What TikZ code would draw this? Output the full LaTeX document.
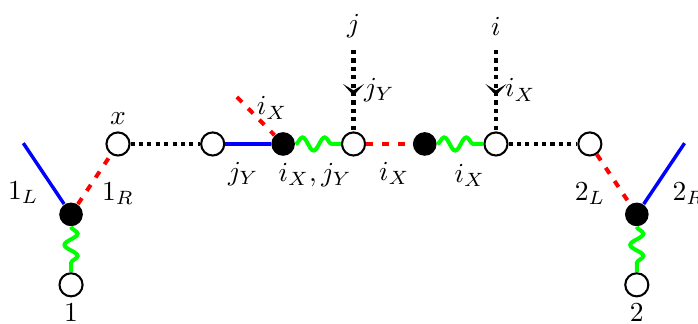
\documentclass[tikz,border=0pt]{standalone}
\usetikzlibrary{arrows.meta,positioning,decorations.pathmorphing,decorations.markings}

\begin{document}
\begin{tikzpicture}[>=Latex,on grid]
  \tikzstyle{hollow}=[circle,draw,fill=white,line width=0.75pt,minimum size=8.4pt,inner sep=0pt]
  \tikzstyle{vertex}=[circle,fill=black,minimum size=8.6pt,inner sep=0pt]
  \tikzstyle{bline}=[blue,line width=1.25pt]
  \tikzstyle{rline}=[red,line width=1.45pt,dash pattern=on 2.6pt off 3.2pt]
  \tikzstyle{dline}=[black,line width=1.55pt,dash pattern=on 1.5pt off 1.55pt]
  \tikzstyle{gline}=[green,line width=1.45pt,decorate,decoration={snake,segment length=8.1pt,amplitude=2.4pt}]
  \tikzstyle{arrline}=[dline,postaction={solid,decorate,decoration={markings,mark=at position 0.56 with {\arrow{Stealth[length=4.2pt,width=7.6pt,inset=2.3pt]}}}}]
  \useasboundingbox (-1.508,-2.300) rectangle (7.412,1.840);

  % horizontal row
  \node[hollow] (x) at (0,0) {};
  \node[hollow,right=1.21cm of x] (a) {};
  \node[vertex,right=0.9cm of a] (b) {};
  \node[hollow,right=0.9cm of b] (c) {};
  \node[vertex,right=0.91cm of c] (d) {};
  \node[hollow,right=0.91cm of d] (e) {};
  \node[hollow,right=1.2cm of e] (f) {};

  % the two outer legs
  \node[vertex,below left=0.9cm and 0.6cm of x] (v1) {};
  \node[hollow,below=0.9cm of v1] (n1) {};
  \node[vertex,below right=0.9cm and 0.6cm of f] (v2) {};
  \node[hollow,below=0.9cm of v2] (n2) {};
  \coordinate[above left=0.91cm and 0.61cm of v1] (l1);
  \coordinate[above right=0.91cm and 0.61cm of v2] (r2);
  \coordinate[above left=0.6cm and 0.59cm of b] (rb);
  \coordinate[above=1.2cm of c] (jtop);
  \coordinate[above=1.2cm of e] (itop);

  \draw[bline] (v1) -- (l1);
  \draw[rline] (v1) -- (x);
  \draw[gline] (v1) -- (n1);
  \draw[dline] (x) -- (a);
  \draw[bline] (a) -- (b);
  \draw[rline] (rb) -- (b);
  \draw[gline] (b) -- (c);
  \draw[rline] (c) -- (d);
  \draw[gline] (d) -- (e);
  \draw[dline] (e) -- (f);
  \draw[rline] (f) -- (v2);
  \draw[bline] (v2) -- (r2);
  \draw[gline] (v2) -- (n2);
  \draw[arrline] (jtop) -- (c);
  \draw[arrline] (itop) -- (e);

  % labels
  \node[above=0.33cm of x] (xlab) {$x$};
  \node[below=0.35cm of n1] (n1lab) {$1$};
  \node[below=0.35cm of n2] (n2lab) {$2$};
  \node[above left=0.28cm and 0.61cm of v1] (l1lab) {$1_L$};
  \node[above right=0.27cm and 0.6cm of v1] (r1lab) {$1_R$};
  \node[above left=0.27cm and 0.6cm of v2] (l2lab) {$2_L$};
  \node[above right=0.27cm and 0.66cm of v2] (r2lab) {$2_R$};
  \node[below right=0.38cm and 0.39cm of a] (ablab) {$j_Y$};
  \node[below right=0.4cm and 0.41cm of b] (bclab) {$i_X,j_Y$};
  \node[below right=0.38cm and 0.52cm of c] (cdlab) {$i_X$};
  \node[below right=0.4cm and 0.575cm of d] (delab) {$i_X$};
  \node[above left=0.46cm and 0.14cm of b] (rblab) {$i_X$};
  \node[above=1.5cm of c] (jlab) {$j$};
  \node[above=1.5cm of e] (ilab) {$i$};
  \node[above right=0.69cm and 0.33cm of c] (jylab) {$j_Y$};
  \node[above right=0.69cm and 0.31cm of e] (ixlab) {$i_X$};
\end{tikzpicture}
\end{document}
